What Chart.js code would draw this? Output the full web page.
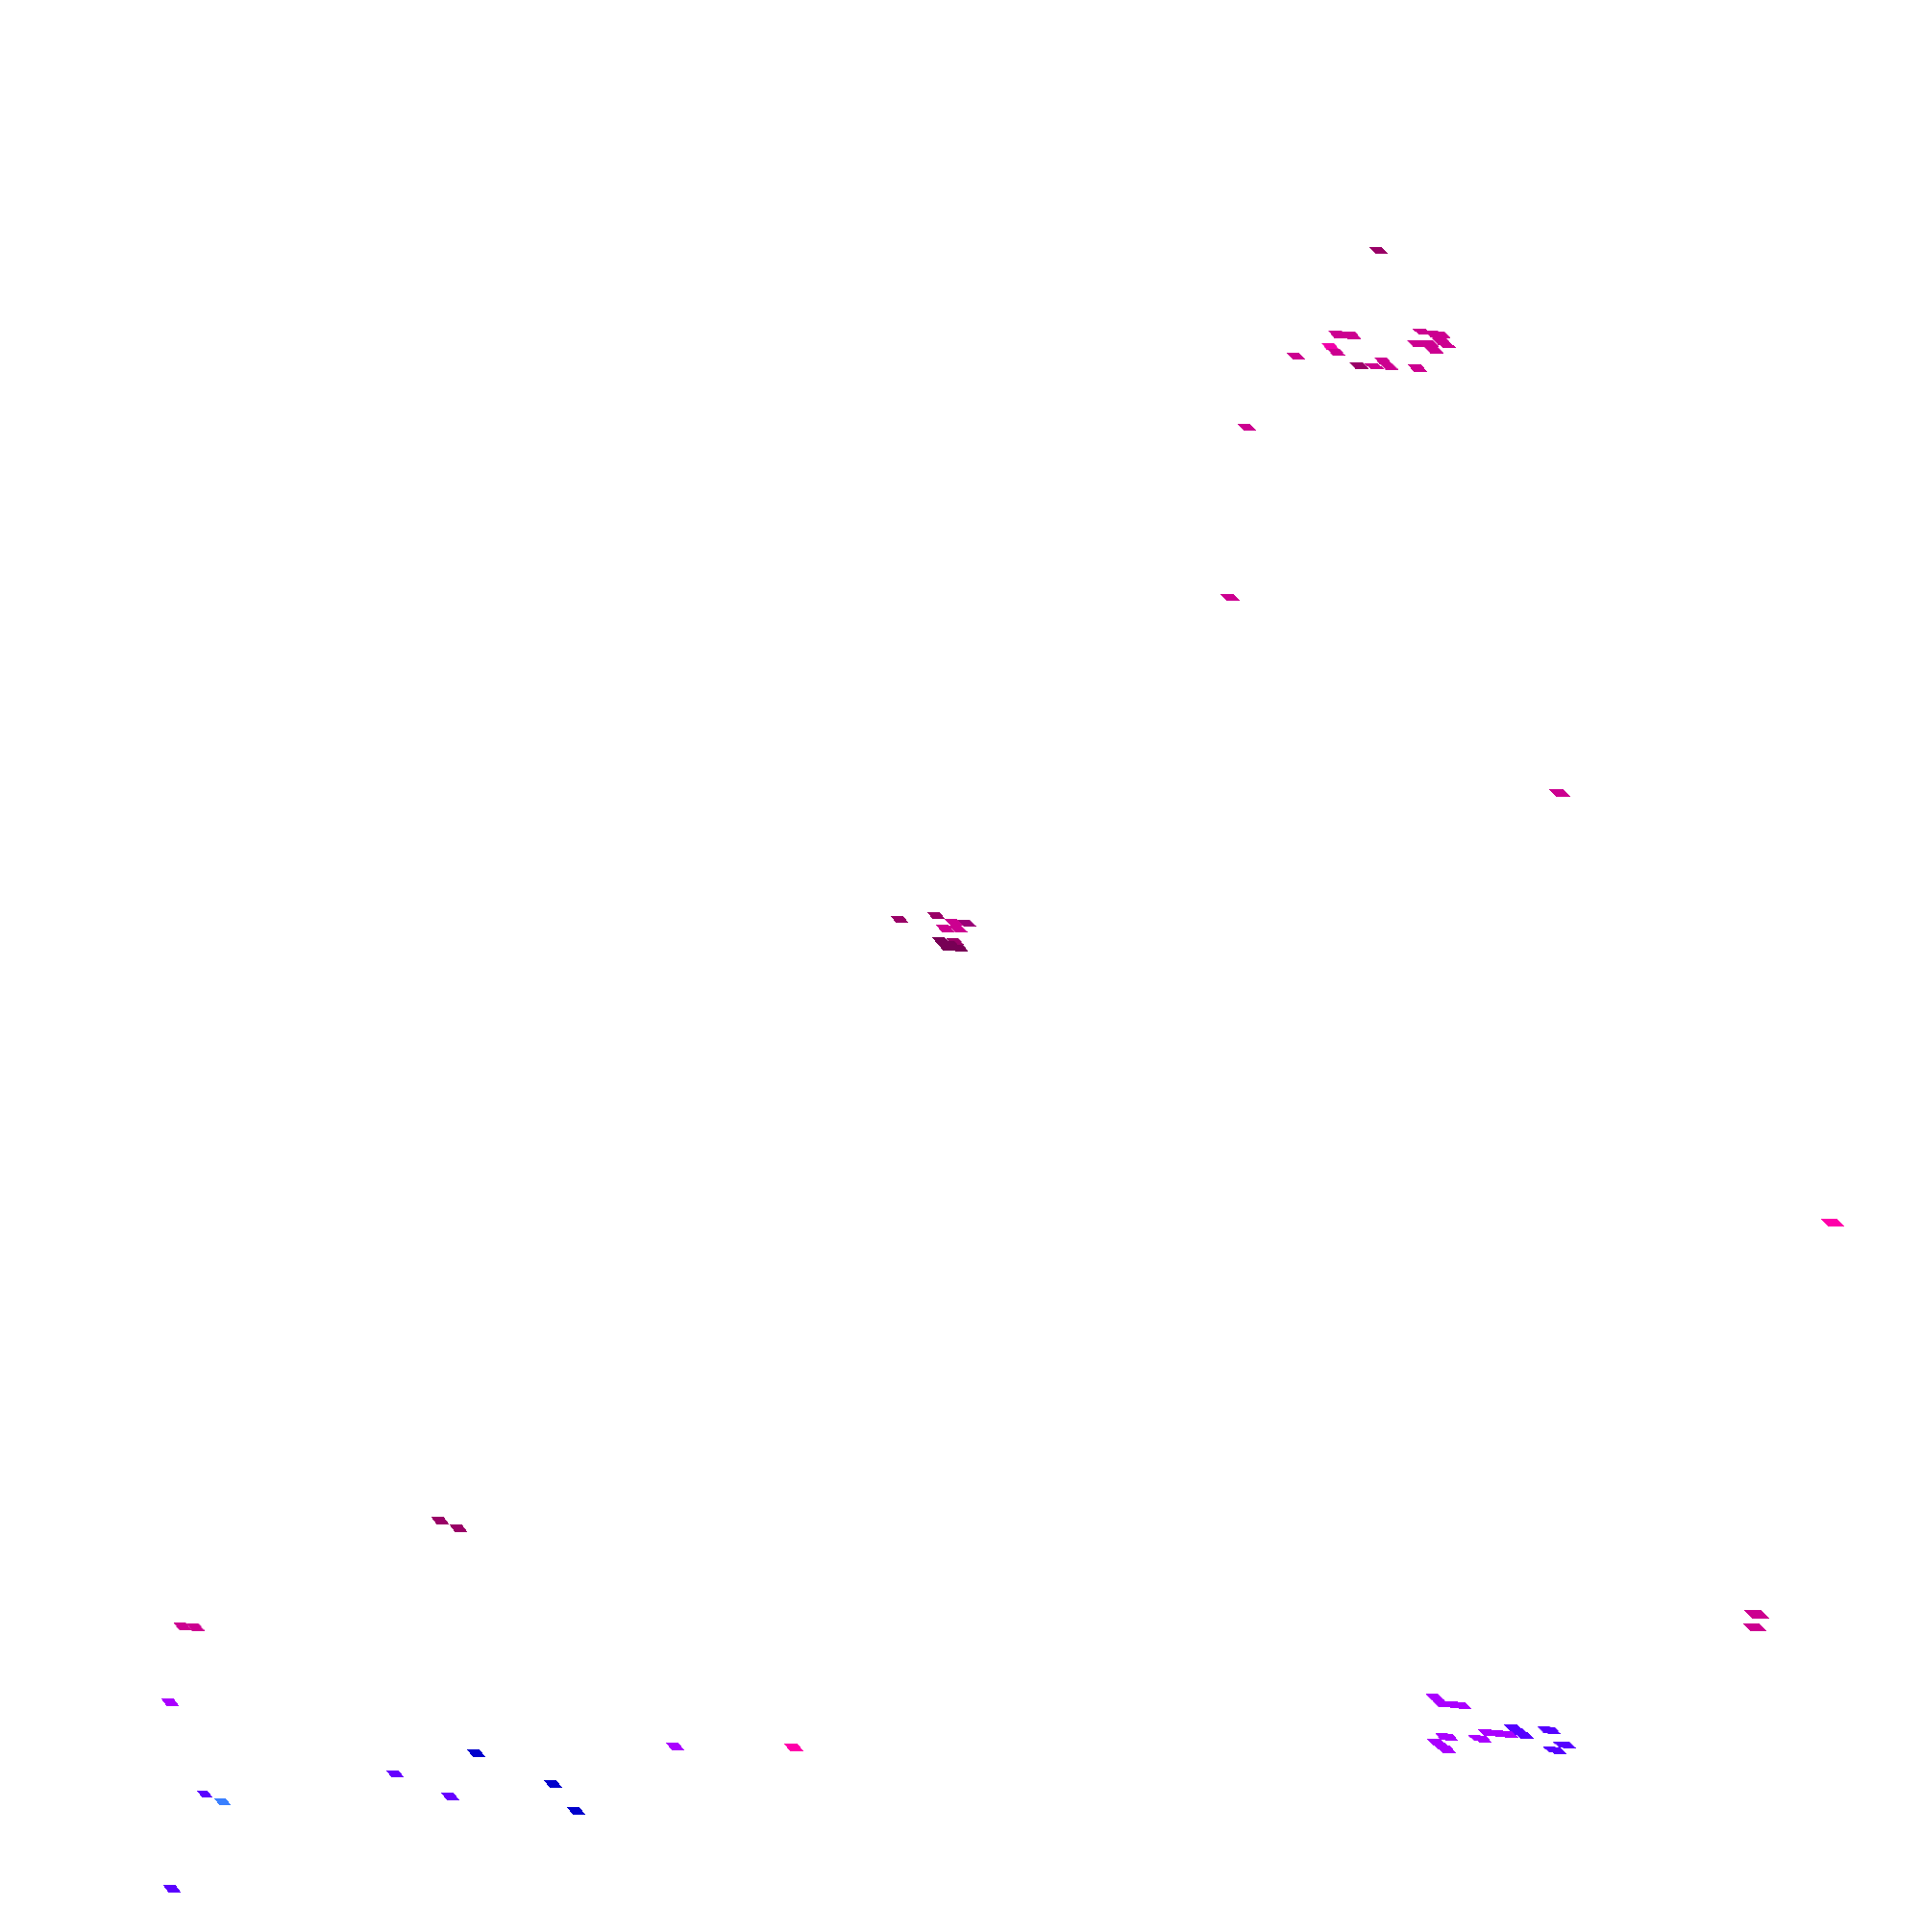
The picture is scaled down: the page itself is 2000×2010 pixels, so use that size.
<!DOCTYPE html>
<html>
<head>
<meta charset="utf-8">
<title>Scatter</title>
<script src="https://cdn.jsdelivr.net/npm/chart.js@4"></script>
<style>
    html, body { margin: 0; padding: 0; background: #ffffff; }
    #chart { display: block; }
</style>
</head>
<body>
<canvas id="chart" width="2000" height="2010"></canvas>
<script>
// Values. It has no axes, so they are in picture units.
const xValues = [
    1434.5, 1348.5, 1392, 1406, 1384, 1390.5, 1414, 1430, 1439, 1445, 1475,
    1480, 1492, 1474, 1487, 1498, 1505, 1492, 1499, 1500,
    1297.5, 1280, 1623,
    936, 974, 1006, 992.5, 983.5, 997, 979, 993.5, 985, 998, 989,
    1907, 458, 477, 190, 203, 1828, 1826,
    177, 213, 231.5, 179, 411, 495.5, 468.5, 575.5, 599.5, 702.5, 826,
    1493, 1500, 1513, 1521.5, 1502.5, 1508, 1495, 1500, 1505,
    1537, 1543, 1548, 1560, 1570, 1575, 1580, 1586,
    1609, 1614.5, 1625, 1630, 1615, 1620.5,
];
const yValues = [
    260.5, 370.5, 347.5, 348.5, 360, 366.5, 380, 381, 375, 381, 383,
    345, 347, 357, 357, 352, 359, 364, 348, 355,
    444.5, 621.5, 825,
    956.5, 952.5, 960.5, 959.5, 966, 966.5, 978.5, 979.5, 985.5, 986, 982,
    1272, 1582, 1590, 1692, 1692.5, 1679.5, 1693,
    1771, 1866.5, 1874.5, 1965, 1845.5, 1824, 1869, 1856, 1884, 1817, 1818,
    1765.5, 1772.5, 1773.5, 1774.5, 1806.5, 1807.5, 1812.5, 1816.5, 1820,
    1808, 1809.5, 1802.5, 1803.5, 1804.5, 1797.5, 1801, 1805.5,
    1799, 1800.5, 1814.5, 1815.5, 1820, 1821.5,
];

// Marker look, one entry per point
const pointColors = [
    "#990066", "#cc0090", "#cc0090", "#cc0090", "#f000a8", "#cc0090", "#990066", "#cc0090", "#cc0090", "#cc0090", "#cc0090",
    "#cc0090", "#cc0090", "#cc0090", "#cc0090", "#cc0090", "#cc0090", "#cc0090", "#cc0090", "#cc0090",
    "#cc0090", "#cc0090", "#cc0090",
    "#990066", "#990066", "#990077", "#cc0090", "#cc0090", "#cc0090", "#770055", "#990066", "#770055", "#770055", "#770055",
    "#ff00aa", "#990066", "#990066", "#cc0090", "#cc0090", "#cc0090", "#cc0090",
    "#aa00ff", "#5a00ff", "#3a80ff", "#5a00ff", "#6600ff", "#0000cc", "#6600ff", "#0000cc", "#0000cc", "#aa00ff", "#ff00aa",
    "#aa00ff", "#aa00ff", "#aa00ff", "#aa00ff", "#aa00ff", "#aa00ff", "#aa00ff", "#aa00ff", "#aa00ff",
    "#aa00ff", "#aa00ff", "#aa00ff", "#aa00ff", "#aa00ff", "#5500ff", "#5500ff", "#5500ff",
    "#5500ff", "#5500ff", "#5500ff", "#5500ff", "#5500ff", "#5500ff",
];
const pointWidths = [
    19, 19, 20, 20, 18, 18, 20, 20, 18, 19, 20,
    20, 20, 20, 20, 20, 20, 20, 20, 20,
    19, 20, 22,
    18, 18, 19, 19, 19, 19, 18, 18, 18, 18, 18,
    24, 18, 18, 19, 19, 26, 24,
    18, 16, 17, 18, 18, 19, 19, 19, 19, 19, 20,
    19, 19, 20, 19, 18, 18, 20, 20, 20,
    19, 18, 20, 20, 20, 20, 20, 20,
    19, 18, 19, 19, 19, 19,
];
const pointHeights = [
    7, 7, 8, 8, 7, 7, 7, 6, 7, 7, 8,
    6, 7, 7, 7, 7, 6, 7, 7, 7,
    7, 7, 8,
    7, 7, 7, 7, 8, 7, 7, 7, 7, 7, 7,
    8, 8, 8, 8, 8, 9, 8,
    8, 7, 7, 8, 7, 8, 8, 8, 8, 8, 8,
    7, 7, 7, 7, 7, 7, 7, 7, 8,
    6, 7, 7, 7, 7, 7, 7, 7,
    7, 7, 6, 7, 6, 7,
];

// Slanted marker, drawn row by row so the edges stay hard like the original
function makeMarker(color, w, h) {
    const c = document.createElement("canvas");
    c.width = w;
    c.height = h;
    const g = c.getContext("2d");
    g.fillStyle = color;
    const rowWidth = Math.round(w * 0.7);
    for (let row = 0; row < h; row++) {
        const left = Math.round((w - rowWidth) * row / (h - 1));
        g.fillRect(left, row, rowWidth, 1);
    }
    return c;
}

const markers = pointColors.map((color, i) => makeMarker(color, pointWidths[i], pointHeights[i]));

new Chart(document.getElementById("chart"), {
    type: "scatter",
    data: {
        datasets: [{
            data: xValues.map((x, i) => ({ x: x, y: yValues[i] })),
            pointStyle: (ctx) => markers[ctx.dataIndex],
            pointRadius: 10,
            pointHoverRadius: 10,
        }],
    },
    options: {
        responsive: false,
        animation: false,
        layout: { padding: 0, autoPadding: false },
        plugins: { legend: { display: false }, tooltip: { enabled: false } },
        scales: {
            x: { display: false, min: 0, max: 2000 },
            y: { display: false, min: 0, max: 2010, reverse: true },
        },
    },
});
</script>
</body>
</html>
